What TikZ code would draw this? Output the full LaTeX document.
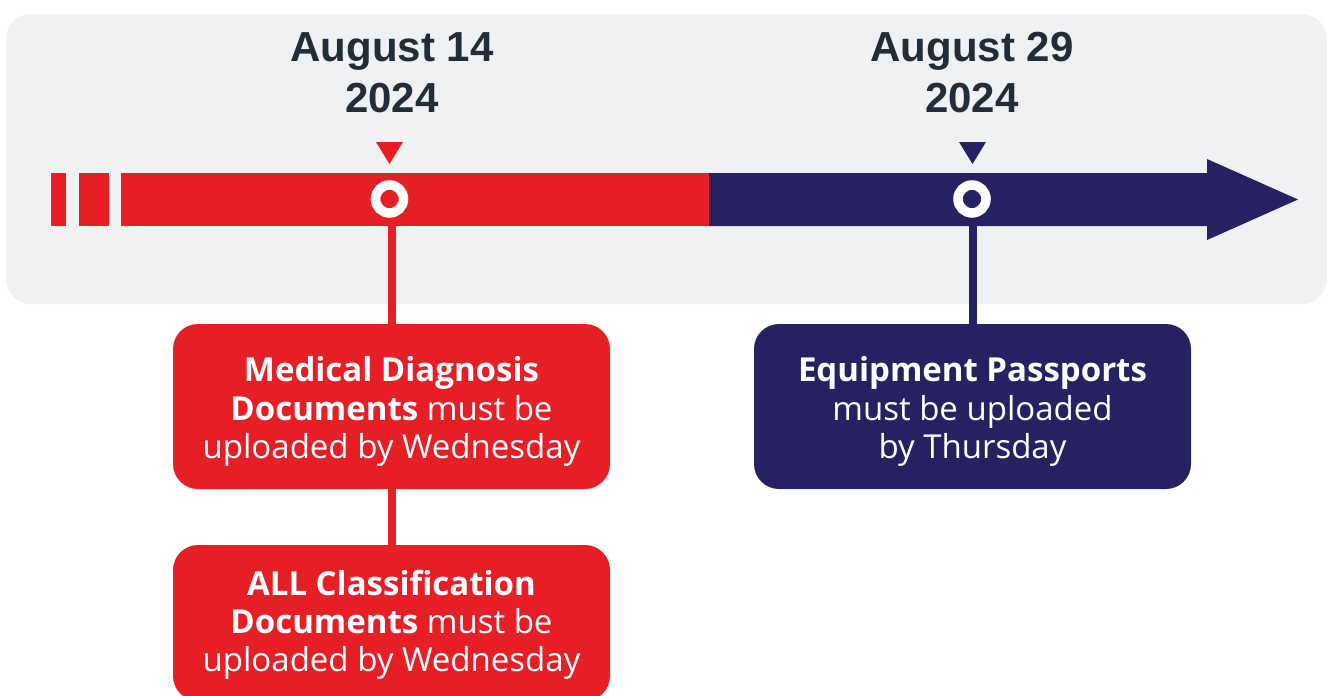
\documentclass[tikz,border=0pt]{standalone}
\usepackage{fontspec}
\setmainfont{Open Sans}
\newfontfamily\datefont{Liberation Sans}
\usetikzlibrary{backgrounds}
\definecolor{tlred}{HTML}{E61F27}
\definecolor{tlnavy}{HTML}{262262}
\definecolor{tlgray}{HTML}{F0F1F3}
\definecolor{tldark}{HTML}{222D38}
\tikzset{
  datetext/.style={align=center, text=tldark, inner sep=0,
    font=\datefont\bfseries\fontsize{42}{51}\selectfont},
  infobox/.style={rounded corners=25, minimum width=437, inner sep=0},
  boxtext/.style={align=center, text=white, inner sep=0,
    font=\fontsize{33}{38.3}\selectfont},
  ring/.style={circle, draw=white, line width=9.5, minimum size=28, inner sep=0},
  stem/.style={line width=8}
}
\begin{document}
\begin{tikzpicture}[x=1pt,y=-1pt]
\useasboundingbox (0,0) rectangle (1328,696);
\clip (0,0) rectangle (1328,696);
% timeline bar
\fill[tlred] (51,173) rectangle (66,226);
\fill[tlred] (79,173) rectangle (109,226);
\fill[tlred] (121,173) rectangle (709,226);
\fill[tlnavy] (709,173) -- (1207,173) -- (1207,159) -- (1298,199.5)
  -- (1207,240) -- (1207,226) -- (709,226) -- cycle;
% triangles
\fill[tlred] (376,142) -- (403,142) -- (389.5,164) -- cycle;
\fill[tlnavy] (959,142) -- (986,142) -- (972.5,164) -- cycle;
% rings
\node[ring, fill=tlred] (c1) at (389.5,199) {};
\node[ring, fill=tlnavy] (c2) at (972,199) {};
% dates
\node[datetext] (d1) at (392,73) {August 14\\2024};
\node[datetext] (d2) at (972,73) {August 29\\2024};
% boxes
\node[infobox, fill=tlred, minimum height=165,
  label={[boxtext, yshift=-5]center:{\textbf{Medical Diagnosis}\\\textbf{Documents} must be\\uploaded by Wednesday}}]
  (b1) at (391.5,406.5) {};
\node[infobox, fill=tlred, minimum height=156,
  label={[boxtext, yshift=-2]center:{\textbf{ALL Classification}\\\textbf{Documents} must be\\uploaded by Wednesday}}]
  (b2) at (391.5,623) {};
\node[infobox, fill=tlnavy, minimum height=165,
  label={[boxtext, yshift=-5]center:{\textbf{Equipment Passports}\\must be uploaded\\by Thursday}}]
  (b3) at (972.5,406.5) {};
% background panel and stems
\begin{pgfonlayer}{background}
\fill[tlgray, rounded corners=25] (6,14) rectangle (1327,304);
\draw[stem, tlred] (b1.north |- c1.center) -- (b1.north);
\draw[stem, tlred] (b1.south) -- (b2.north);
\draw[stem, tlnavy] (b3.north |- c2.center) -- (b3.north);
\end{pgfonlayer}
\end{tikzpicture}
\end{document}
